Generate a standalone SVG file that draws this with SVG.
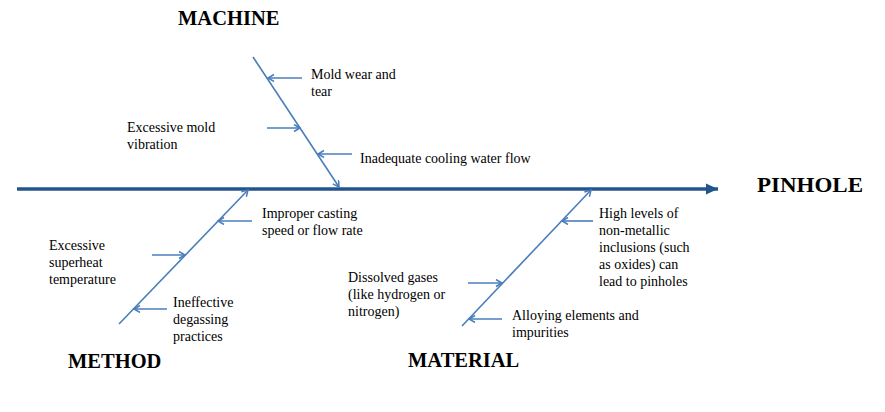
<svg xmlns="http://www.w3.org/2000/svg" width="885" height="412" viewBox="0 0 885 412">
<style>
.bg{fill:#ffffff}
.spine{stroke:#23558c;stroke-width:3.5;fill:none}
.bone{stroke:#4a7ebb;stroke-width:1.6;fill:none}
.cause{stroke:#4a7ebb;stroke-width:1.6;fill:none}
.lbl{font-family:"Liberation Serif","Times New Roman",serif;font-size:14px;fill:#000}
.head{font-family:"Liberation Serif","Times New Roman",serif;font-size:20.5px;font-weight:bold;fill:#000}
</style>
<defs>
<marker id="open" markerUnits="userSpaceOnUse" markerWidth="10" markerHeight="10" refX="7" refY="4" orient="auto">
<path d="M1,0.5 L7,4 L1,7.5" fill="none" stroke="#4a7ebb" stroke-width="1.5"/>
</marker>
<marker id="big" markerUnits="userSpaceOnUse" markerWidth="14" markerHeight="12" refX="12" refY="6" orient="auto">
<path d="M0,0.5 L12,6 L0,11.5 Z" fill="#23558c"/>
</marker>
</defs>
<rect class="bg" x="0" y="0" width="885" height="412"/>
<g id="connectors">
<line class="spine" x1="17" y1="189" x2="718" y2="189" marker-end="url(#big)"/>
<line class="bone" x1="253" y1="57" x2="339" y2="187" marker-end="url(#open)"/>
<line class="bone" x1="119" y1="324" x2="248" y2="190" marker-end="url(#open)"/>
<line class="bone" x1="462" y1="326" x2="591" y2="190" marker-end="url(#open)"/>
<line class="cause" x1="302" y1="78" x2="268" y2="78" marker-end="url(#open)"/>
<line class="cause" x1="267" y1="128" x2="300" y2="128" marker-end="url(#open)"/>
<line class="cause" x1="352" y1="154" x2="318" y2="154" marker-end="url(#open)"/>
<line class="cause" x1="252" y1="221" x2="218" y2="221" marker-end="url(#open)"/>
<line class="cause" x1="152" y1="255" x2="185" y2="255" marker-end="url(#open)"/>
<line class="cause" x1="167" y1="309" x2="134" y2="309" marker-end="url(#open)"/>
<line class="cause" x1="593" y1="221" x2="562" y2="221" marker-end="url(#open)"/>
<line class="cause" x1="468" y1="283" x2="502" y2="283" marker-end="url(#open)"/>
<line class="cause" x1="502" y1="319" x2="469" y2="319" marker-end="url(#open)"/>
</g>
<g id="effect"><text class="head" x="757" y="192" font-size="22" textLength="106" lengthAdjust="spacingAndGlyphs">PINHOLE</text></g>
<g id="machine"><text class="head" x="178" y="25">MACHINE</text></g>
<g id="method"><text class="head" x="68" y="368">METHOD</text></g>
<g id="material"><text class="head" x="408" y="367">MATERIAL</text></g>
<g id="c-mold-wear"><text class="lbl" x="311" y="79">Mold wear and</text><text class="lbl" x="311" y="96">tear</text></g>
<g id="c-vibration"><text class="lbl" x="127" y="132">Excessive mold</text><text class="lbl" x="127" y="149">vibration</text></g>
<g id="c-cooling"><text class="lbl" x="360" y="163">Inadequate cooling water flow</text></g>
<g id="c-casting"><text class="lbl" x="262" y="218">Improper casting</text><text class="lbl" x="262" y="235">speed or flow rate</text></g>
<g id="c-superheat"><text class="lbl" x="49" y="250">Excessive</text><text class="lbl" x="49" y="267">superheat</text><text class="lbl" x="49" y="284">temperature</text></g>
<g id="c-degassing"><text class="lbl" x="173" y="307">Ineffective</text><text class="lbl" x="173" y="324">degassing</text><text class="lbl" x="173" y="341">practices</text></g>
<g id="c-gases"><text class="lbl" x="348" y="282">Dissolved gases</text><text class="lbl" x="348" y="299">(like hydrogen or</text><text class="lbl" x="348" y="316">nitrogen)</text></g>
<g id="c-alloying"><text class="lbl" x="512" y="320">Alloying elements and</text><text class="lbl" x="512" y="337">impurities</text></g>
<g id="c-inclusions"><text class="lbl" x="599" y="218">High levels of</text><text class="lbl" x="599" y="235">non-metallic</text><text class="lbl" x="599" y="252">inclusions (such</text><text class="lbl" x="599" y="269">as oxides) can</text><text class="lbl" x="599" y="286">lead to pinholes</text></g>
</svg>
